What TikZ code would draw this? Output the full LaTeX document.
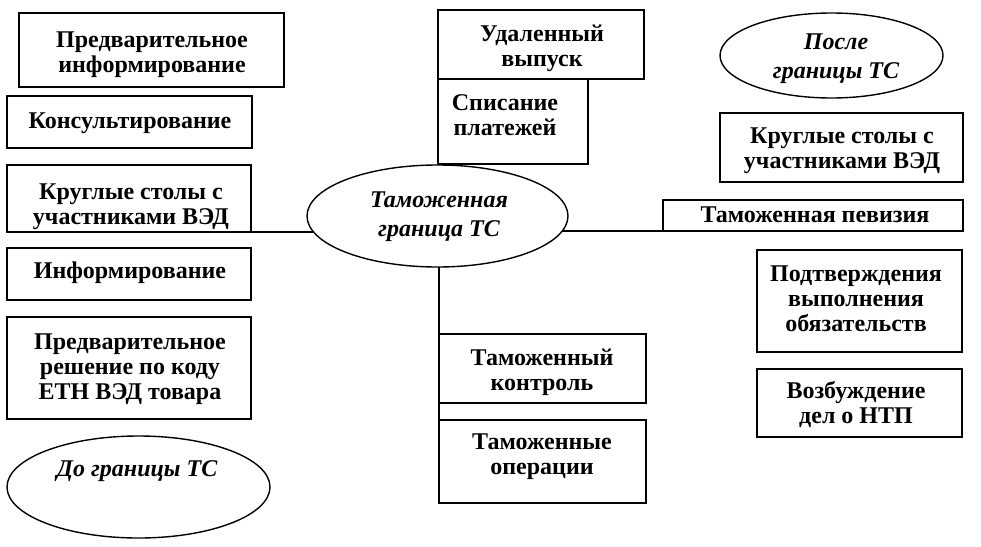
\documentclass[tikz,border=0pt]{standalone}
\usepackage{fontspec}
\setmainfont{Liberation Serif}
\usetikzlibrary{shapes.geometric}
\begin{document}
\begin{tikzpicture}[x=1pt,y=-1pt,
  box/.style={draw, line width=1.4pt, rectangle, inner sep=0pt, outer sep=0pt},
  oval/.style={draw, ellipse, line width=1.4pt, inner sep=0pt, outer sep=0pt},
  txt/.style={font=\fontsize{24}{25}\selectfont\bfseries, align=center, inner sep=0pt},
  itxt/.style={font=\fontsize{24}{29}\selectfont\bfseries\itshape, align=center, inner sep=0pt},
  conn/.style={line width=1.6pt}]
\useasboundingbox (0,0) rectangle (981,546);
% left column
\node[box, minimum width=265pt, minimum height=74pt] (l1b) at (151.5,50) {};
\node[txt] (l1) at (152,55) {Предварительное\\информирование};
\node[box, minimum width=245pt, minimum height=52pt] (l2b) at (129.5,122) {};
\node[txt] (l2) at (130,123) {Консультирование};
\node[box, minimum width=244pt, minimum height=67pt] (l3b) at (129,198.5) {};
\node[txt] (l3) at (131,207) {Круглые столы с\\участниками ВЭД};
\node[box, minimum width=244pt, minimum height=52pt] (l4b) at (129,274) {};
\node[txt] (l4) at (130,273) {Информирование};
\node[box, minimum width=244pt, minimum height=102pt] (l5b) at (129,368) {};
\node[txt] (l5) at (130,369) {Предварительное\\решение по коду\\ЕТН ВЭД товара};
\node[oval, minimum width=263pt, minimum height=102pt] (ldob) at (138.5,487) {};
\node[itxt] (ldo) at (137,471) {До границы ТС};
% centre
\node[oval, minimum width=261pt, minimum height=102pt] (cb) at (437.5,216) {};
\node[itxt] (c) at (439,217) {Таможенная\\граница ТС};
\node[box, minimum width=206pt, minimum height=69pt] (u1b) at (541,44.5) {};
\node[txt] (u1) at (542,48) {Удаленный\\выпуск};
\node[box, minimum width=150pt, minimum height=85pt] (u2b) at (513,121.5) {};
\node[txt] (u2) at (505,115) {Списание\\платежей};
\node[box, minimum width=207pt, minimum height=69pt] (d1b) at (542.5,368.5) {};
\node[txt] (d1) at (542,372) {Таможенный\\контроль};
\node[box, minimum width=207pt, minimum height=83pt] (d2b) at (542.5,461.5) {};
\node[txt] (d2) at (542,457) {Таможенные\\операции};
% right column
\node[oval, minimum width=223pt, minimum height=85pt] (rb) at (831.5,55.5) {};
\node[itxt] (r) at (836,59) {После\\границы ТС};
\node[box, minimum width=243pt, minimum height=69pt] (r1b) at (841.5,147.5) {};
\node[txt] (r1) at (842,151) {Круглые столы с\\участниками ВЭД};
\node[box, minimum width=300pt, minimum height=31pt] (r2b) at (813,215.5) {};
\node[txt] (r2) at (815,215) {Таможенная певизия};
\node[box, minimum width=205pt, minimum height=102pt] (r3b) at (859.5,301) {};
\node[txt] (r3) at (856,299) {Подтверждения\\выполнения\\обязательств};
\node[box, minimum width=205pt, minimum height=68pt] (r4b) at (859.5,403) {};
\node[txt] (r4) at (856,404) {Возбуждение\\дел о НТП};
% connectors
\draw[conn] (l3b.south east) -- (l3b.south east -| cb.187);
\draw[conn] (r2b.south west -| cb.353) -- (r2b.south west);
\draw[conn] (cb.south -| d1b.north west) -- (d1b.north west);
\draw[conn] (d1b.south west) -- (d2b.north west);
\end{tikzpicture}
\end{document}
